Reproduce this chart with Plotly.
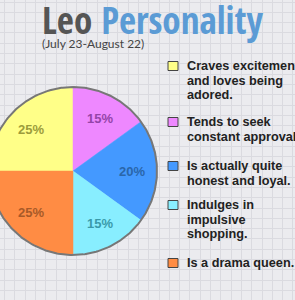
import math
import plotly.graph_objects as go

# ---- data ----
traits = [
    ["Craves excitement", "and loves being", "adored."],
    ["Tends to seek", "constant approval."],
    ["Is actually quite", "honest and loyal."],
    ["Indulges in", "impulsive", "shopping."],
    ["Is a drama queen."],
]
shares = [25, 15, 20, 15, 25]
fill_colors = ["#ffff88", "#ee88ff", "#4499ff", "#88eeff", "#ff8c44"]
label_colors = ["#9c9c3c", "#9444a8", "#2a66aa", "#3a9aaa", "#a85a28"]
title_parts = ["Leo", "Personality"]
subtitle = "(July 23-August 22)"

# ---- layout constants (pixel coordinates) ----
W, H = 295, 300
CX, CY, R = 73, 171, 84
START = 270.0  # degrees clockwise from 12 o'clock where first slice begins

fig = go.Figure()

def pt(angle_deg, r):
    a = math.radians(angle_deg)
    return CX + r * math.sin(a), CY - r * math.cos(a)

total = sum(shares)
ang = START
annotations = []
for v, fc, lc in zip(shares, fill_colors, label_colors):
    span = 360.0 * v / total
    xs, ys = [CX], [CY]
    n = max(8, int(span))
    for i in range(n + 1):
        x, y = pt(ang + span * i / n, R)
        xs.append(x); ys.append(y)
    xs.append(CX); ys.append(CY)
    fig.add_trace(go.Scatter(x=xs, y=ys, fill="toself", fillcolor=fc, mode="lines",
                             line=dict(width=0.5, color=fc), hoverinfo="skip", showlegend=False))
    lx, ly = pt(ang + span / 2, R * 0.7)
    annotations.append(dict(x=lx, y=ly, text=f"<b>{v}%</b>", showarrow=False,
                            font=dict(family="Liberation Sans, Arial", size=13, color=lc),
                            xanchor="center", yanchor="middle"))
    ang += span

# outline circle
cx_, cy_ = [], []
for i in range(361):
    x, y = pt(i, R)
    cx_.append(x); cy_.append(y)
fig.add_trace(go.Scatter(x=cx_, y=cy_, mode="lines", line=dict(color="#777777", width=2),
                         hoverinfo="skip", showlegend=False))

# legend
first_line_y = [66, 122, 166, 205, 263]
LINE_H = 14.5
shapes = []
for lines, fc, y0 in zip(traits, fill_colors, first_line_y):
    shapes.append(dict(type="rect", xref="x", yref="y", x0=168, x1=178, y0=y0 - 4.5, y1=y0 + 4.5,
                       fillcolor=fc, line=dict(color="#444444", width=1)))
    for j, line in enumerate(lines):
        annotations.append(dict(x=185, y=y0 + j * LINE_H, text=f"<b>{line}</b>", showarrow=False,
                                xanchor="left", yanchor="middle",
                                font=dict(family="Liberation Sans, Arial", size=12.7, color="#222222")))

# title
annotations.append(dict(x=40, y=19, xanchor="left", yanchor="middle", showarrow=False,
                        text=f"<span style='font-stretch:condensed'>"
                             f"<span style='color:#555555'>{title_parts[0]}</span> "
                             f"<span style='color:#5b9bd5'>{title_parts[1]}</span></span>",
                        font=dict(family="Open Sans Condensed, Open Sans", size=37, weight=600)))
annotations.append(dict(x=40, y=43, xanchor="left", yanchor="middle", showarrow=False,
                        text=subtitle,
                        font=dict(family="Lato, Open Sans", size=12, color="#444444")))

fig.update_layout(
    width=W, height=H, margin=dict(l=0, r=0, t=0, b=0),
    paper_bgcolor="#ebebef", plot_bgcolor="#ebebef",
    xaxis=dict(range=[0, W], showticklabels=False, zeroline=False, showgrid=True,
               gridcolor="#dadae0", gridwidth=1, dtick=10.3, tick0=4.5, fixedrange=True),
    yaxis=dict(range=[H, 0], showticklabels=False, zeroline=False, showgrid=True,
               gridcolor="#dadae0", gridwidth=1, dtick=10.3, tick0=2, fixedrange=True),
    annotations=annotations, shapes=shapes, showlegend=False,
)

fig.write_html("out.html", config={"displayModeBar": False})
